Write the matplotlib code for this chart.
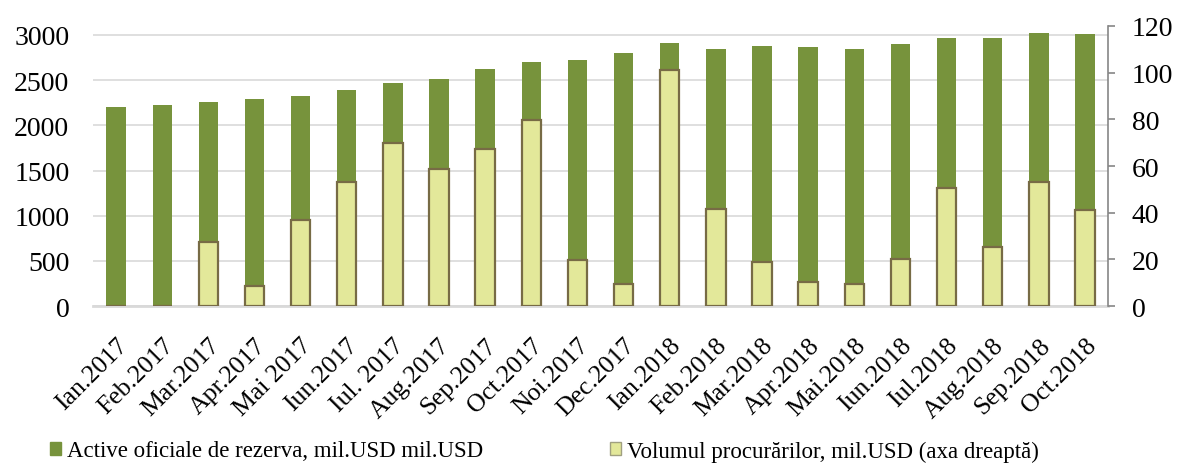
import numpy as np
import matplotlib
matplotlib.use("Agg")
import matplotlib.pyplot as plt
from matplotlib.patches import Patch

# data
months = ["Ian.2017", "Feb.2017", "Mar.2017", "Apr.2017", "Mai 2017", "Iun.2017",
          "Iul. 2017", "Aug.2017", "Sep.2017", "Oct.2017", "Noi.2017", "Dec.2017",
          "Ian.2018", "Feb.2018", "Mar.2018", "Apr.2018", "Mai.2018", "Iun.2018",
          "Iul.2018", "Aug.2018", "Sep.2018", "Oct.2018"]
active = [2202, 2230, 2258, 2288, 2328, 2388, 2472, 2516, 2626, 2700, 2726, 2800,
          2914, 2844, 2881, 2866, 2844, 2900, 2969, 2970, 3024, 3012]
procurari = [0, 0, 27.4, 8.7, 37, 53, 70, 58.7, 67.1, 79.8, 19.8, 9.3,
             101.3, 41.4, 19.1, 10.3, 9.3, 20, 50.7, 25.4, 53, 41.3]

label_active = "Active oficiale de rezerva, mil.USD mil.USD"
label_proc = "Volumul procurărilor, mil.USD (axa dreaptă)"

green = "#77933C"
yellow = "#E3E89A"
edge = "#776B45"

plt.rcParams['font.family'] = ['Liberation Serif', 'DejaVu Serif']

fig = plt.figure(figsize=(11.77, 4.64), dpi=100)
ax = fig.add_axes([0.079, 0.338, 0.8624, 0.604])
ax2 = ax.twinx()

x = np.arange(len(months))
w = 0.42
ax.bar(x, active, width=w, color=green, zorder=2)
ax2.bar(x, procurari, width=w, color=yellow, edgecolor=edge, linewidth=1.6, zorder=3)

ax.set_xlim(-0.5, len(months) - 0.5)
ax.set_ylim(0, 3100)
ax2.set_ylim(0, 120)
ax.set_yticks(np.arange(0, 3001, 500))
ax2.set_yticks(np.arange(0, 121, 20))

ax.grid(axis='y', color='#D9D9D9', linewidth=1.2, zorder=0)
ax.set_axisbelow(True)

for a in (ax, ax2):
    for s in ('top', 'left', 'right'):
        a.spines[s].set_visible(False)
ax2.spines['bottom'].set_visible(False)
ax.spines['bottom'].set_color('#D9D9D9')
ax.spines['bottom'].set_linewidth(2)
ax2.spines['right'].set_visible(True)
ax2.spines['right'].set_color('#868686')
ax2.spines['right'].set_linewidth(1.2)

ax.tick_params(axis='y', length=0, labelsize=20, pad=17)
ax.tick_params(axis='x', length=0, labelsize=18.5, pad=20)
ax2.tick_params(axis='y', length=5, color='#868686', width=1.2, labelsize=20, pad=12)

ax.set_xticks(x)
ax.set_xticklabels(months, rotation=45, ha='right', rotation_mode='anchor')

h1 = Patch(facecolor=green, edgecolor=green)
h2 = Patch(facecolor=yellow, edgecolor='#A0A080')
leg_kw = dict(loc='center left', frameon=False, fontsize=16.5, borderpad=0,
              borderaxespad=0, handlelength=0.5, handleheight=0.5, handletextpad=0.25)
fig.legend([h1], [label_active], bbox_to_anchor=(50 / 1177, 1 - 452 / 464), **leg_kw)
fig.legend([h2], [label_proc], bbox_to_anchor=(610 / 1177, 1 - 452 / 464), **leg_kw)

fig.savefig("out.png", dpi=100)
